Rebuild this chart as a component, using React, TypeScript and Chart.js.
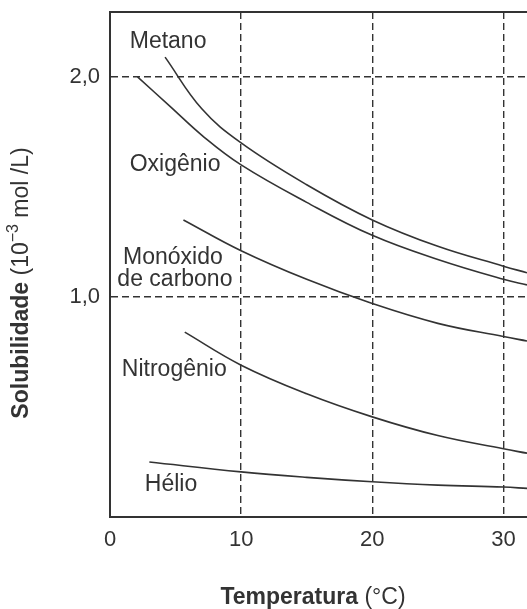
import React, { useEffect, useRef } from "react";
import { Chart, registerables } from "chart.js";

Chart.register(...registerables);

// ---- data (temperature °C, solubility 10^-3 mol/L) ----
const METANO_X = [4.2, 7, 10, 15, 20, 25, 30, 31.8];
const METANO_Y = [2.09, 1.855, 1.7, 1.51, 1.35, 1.23, 1.14, 1.11];

const OXIGENIO_X = [2.1, 4.6, 7.1, 10, 15, 20, 25, 30, 31.8];
const OXIGENIO_Y = [2.0, 1.865, 1.73, 1.6, 1.43, 1.28, 1.17, 1.08, 1.055];

const CO_X = [5.6, 10, 15, 20, 25, 30, 31.8];
const CO_Y = [1.35, 1.21, 1.08, 0.97, 0.88, 0.82, 0.8];

const NITROGENIO_X = [5.7, 10, 15, 20, 25, 30, 31.8];
const NITROGENIO_Y = [0.84, 0.69, 0.56, 0.455, 0.37, 0.31, 0.29];

const HELIO_X = [3.0, 10, 15, 20, 25, 30, 31.8];
const HELIO_Y = [0.25, 0.205, 0.18, 0.16, 0.145, 0.136, 0.13];

const X_TICKS = [0, 10, 20, 30];
const Y_TICKS = [0, 1, 2];

// curve labels anchored at data coordinates
const LABEL_TEXT = ["Metano", "Oxigênio", "Monóxido", "de carbono", "Nitrogênio", "Hélio"];
const LABEL_X = [4.43, 4.96, 4.8, 4.95, 4.9, 4.65];
const LABEL_Y = [2.16, 1.6, 1.18, 1.077, 0.67, 0.145];

const X_TITLE_BOLD = "Temperatura";
const X_TITLE_REST = " (°C)";
const Y_TITLE_BOLD = "Solubilidade";
const Y_TITLE_A = " (10";
const Y_TITLE_SUP = "−3";
const Y_TITLE_B = " mol /L)";

const FONT = "'Liberation Sans', Arial, sans-serif";
const INK = "#333333";

const zip = (xs: number[], ys: number[]) => xs.map((x, i) => ({ x, y: ys[i] }));

const decorPlugin = {
  id: "decor",
  afterDraw(chart: any) {
    const { ctx, chartArea } = chart;
    const xs = chart.scales.x;
    const ys = chart.scales.y;
    ctx.save();
    // top frame line
    ctx.strokeStyle = INK;
    ctx.lineWidth = 2;
    ctx.beginPath();
    ctx.moveTo(chartArea.left, chartArea.top);
    ctx.lineTo(chartArea.right, chartArea.top);
    ctx.stroke();

    // curve labels
    ctx.fillStyle = INK;
    ctx.font = `23px ${FONT}`;
    ctx.textAlign = "center";
    ctx.textBaseline = "middle";
    LABEL_TEXT.forEach((t, i) => {
      ctx.fillText(t, xs.getPixelForValue(LABEL_X[i]), ys.getPixelForValue(LABEL_Y[i]));
    });

    // x title
    ctx.textAlign = "left";
    ctx.textBaseline = "middle";
    const bold = `bold 23px ${FONT}`;
    const reg = `23px ${FONT}`;
    ctx.font = bold;
    const wb = ctx.measureText(X_TITLE_BOLD).width;
    ctx.font = reg;
    const wr = ctx.measureText(X_TITLE_REST).width;
    const cx = 313;
    const cy = 598;
    const sx = cx - (wb + wr) / 2;
    ctx.font = bold;
    ctx.fillText(X_TITLE_BOLD, sx, cy);
    ctx.font = reg;
    ctx.fillText(X_TITLE_REST, sx + wb, cy);

    // y title (rotated)
    ctx.save();
    ctx.translate(22, 283);
    ctx.rotate(-Math.PI / 2);
    const sup = `16px ${FONT}`;
    ctx.font = bold;
    const w1 = ctx.measureText(Y_TITLE_BOLD).width;
    ctx.font = reg;
    const w2 = ctx.measureText(Y_TITLE_A).width;
    ctx.font = sup;
    const w3 = ctx.measureText(Y_TITLE_SUP).width;
    ctx.font = reg;
    const w4 = ctx.measureText(Y_TITLE_B).width;
    let px = -(w1 + w2 + w3 + w4) / 2;
    ctx.font = bold;
    ctx.fillText(Y_TITLE_BOLD, px, 0);
    px += w1;
    ctx.font = reg;
    ctx.fillText(Y_TITLE_A, px, 0);
    px += w2;
    ctx.font = sup;
    ctx.fillText(Y_TITLE_SUP, px, -8);
    px += w3;
    ctx.font = reg;
    ctx.fillText(Y_TITLE_B, px, 0);
    ctx.restore();

    ctx.restore();
  },
};

export default function App() {
  const ref = useRef<HTMLCanvasElement | null>(null);
  useEffect(() => {
    if (!ref.current) return;
    const lineDs = (xs: number[], ys: number[]) => ({
      data: zip(xs, ys),
      borderColor: INK,
      borderWidth: 1.6,
      pointRadius: 0,
      fill: false,
      tension: 0.4,
    });
    const chart = new Chart(ref.current, {
      type: "line",
      data: {
        datasets: [
          lineDs(METANO_X, METANO_Y),
          lineDs(OXIGENIO_X, OXIGENIO_Y),
          lineDs(CO_X, CO_Y),
          lineDs(NITROGENIO_X, NITROGENIO_Y),
          lineDs(HELIO_X, HELIO_Y),
        ],
      },
      options: {
        animation: false,
        responsive: false,
        devicePixelRatio: 1,
        layout: { padding: { top: 12, left: 0, right: 0, bottom: 0 } },
        plugins: { legend: { display: false }, tooltip: { enabled: false } },
        scales: {
          x: {
            type: "linear",
            min: 0,
            max: 31.8,
            afterBuildTicks: (s: any) => {
              s.ticks = X_TICKS.map((v) => ({ value: v }));
            },
            afterFit: (s: any) => {
              s.height = 92;
              s.paddingLeft = 0;
              s.paddingRight = 0;
            },
            grid: { color: INK, lineWidth: 1.4, drawTicks: false },
            border: { color: INK, width: 2, dash: [7, 4] },
            ticks: {
              color: INK,
              font: { family: FONT, size: 22 },
              padding: 10,
              maxRotation: 0,
              callback: (v: any) => String(v),
            },
          },
          y: {
            type: "linear",
            min: 0,
            max: 2.295,
            afterBuildTicks: (s: any) => {
              s.ticks = Y_TICKS.map((v) => ({ value: v }));
            },
            afterFit: (s: any) => {
              s.width = 110;
              s.paddingTop = 0;
              s.paddingBottom = 0;
            },
            grid: { color: INK, lineWidth: 1.4, drawTicks: false },
            border: { color: INK, width: 2, dash: [7, 4] },
            ticks: {
              color: INK,
              font: { family: FONT, size: 22 },
              padding: 10,
              callback: (v: any) => (v === 0 ? "" : Number(v).toFixed(1).replace(".", ",")),
            },
          },
        },
      },
      plugins: [decorPlugin],
    });
    return () => chart.destroy();
  }, []);
  return (
    <div style={{ position: "absolute", left: 0, top: 0, width: 527, height: 609, background: "#fff" }}>
      <canvas ref={ref} width={527} height={609} style={{ display: "block" }} />
    </div>
  );
}
